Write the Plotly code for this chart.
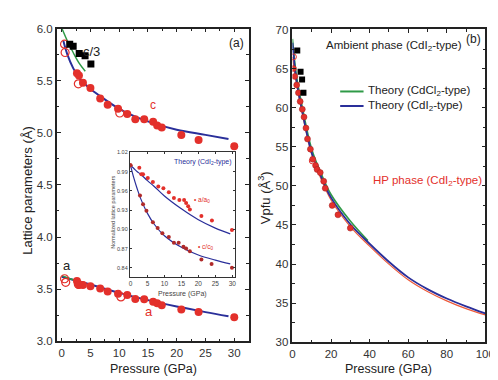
import plotly.graph_objects as go

# ---------------- data: panel (a) ----------------
P_hp = [2.66, 3.0, 3.7, 5.0, 6.7, 8.0, 9.8, 11.4, 12.8, 14.35, 15.9, 16.6, 17.4, 20.8, 23.8, 30.0]
c_hp = [5.57, 5.55, 5.48, 5.43, 5.33, 5.27, 5.23, 5.18, 5.13, 5.13, 5.105, 5.07, 5.05, 4.98, 4.93, 4.87]
a_hp = [3.578, 3.54, 3.54, 3.528, 3.506, 3.478, 3.457, 3.445, 3.407, 3.404, 3.38, 3.366, 3.345, 3.305, 3.282, 3.23]

P_open_c = [0.5, 0.6, 2.9, 10.1]
c_open = [5.85, 5.77, 5.47, 5.19]
P_open_a = [0.5, 0.7, 2.9, 10.3]
a_open = [3.60, 3.566, 3.547, 3.426]

P_c3 = [1.4, 2.0, 3.05, 4.07, 5.08]
c3_amb = [5.85, 5.83, 5.76, 5.74, 5.66]

P_th_c = [0.3, 1, 2, 3, 4, 5, 7, 10, 13, 16, 20, 25, 29]
c_th_blue = [5.88, 5.75, 5.62, 5.53, 5.47, 5.42, 5.34, 5.23, 5.15, 5.09, 5.03, 4.98, 4.94]
P_th_green = [0.05, 1, 2, 3, 4.1]
c_th_green = [6.0, 5.88, 5.77, 5.67, 5.59]
a_th_green = [3.63, 3.61, 3.59, 3.57, 3.555]
P_th_a = [0, 5, 10, 15, 20, 25, 29]
a_th_blue = [3.62, 3.545, 3.465, 3.395, 3.335, 3.28, 3.24]

# ---------------- data: inset ----------------
P_in_a = [0, 2.6, 3.2, 3.7, 5.1, 6.6, 8.2, 9.7, 11.3, 12.8, 14.4, 15.8, 16.4, 17.0, 17.5, 20.9, 24.0, 29.9]
a_norm = [1.0, 0.996, 0.986, 0.986, 0.980, 0.974, 0.967, 0.964, 0.958, 0.949, 0.946, 0.946, 0.941, 0.936, 0.931, 0.921, 0.914, 0.899]
P_in_c = [0, 2.8, 3.7, 4.7, 6.6, 8.0, 9.4, 11.3, 12.8, 14.2, 15.6, 16.4, 17.5, 20.9, 23.9, 29.9]
c_norm = [1.0, 0.953, 0.939, 0.929, 0.911, 0.902, 0.894, 0.888, 0.879, 0.879, 0.873, 0.870, 0.866, 0.853, 0.846, 0.840]
P_in_th = [0, 1, 2, 3, 5, 7, 10, 15, 20, 25, 29.4]
a_norm_th = [1.0, 0.995, 0.990, 0.986, 0.976, 0.967, 0.952, 0.932, 0.915, 0.902, 0.893]
c_norm_th = [1.0, 0.980, 0.963, 0.948, 0.925, 0.908, 0.890, 0.872, 0.860, 0.852, 0.846]

# ---------------- data: panel (b) ----------------
P_v_hp = [0.5, 1.2, 2.2, 3.1, 4.0, 5.1, 6.0, 7.0, 7.8, 9.3, 10.5, 12.0, 12.8, 14.4, 16.2, 17.0, 20.6, 23.6, 30.0]
V_hp = [65.0, 64.0, 62.9, 61.9, 60.8, 59.8, 58.8, 57.4, 56.0, 54.7, 53.4, 52.6, 52.1, 51.7, 50.6, 49.7, 47.5, 46.3, 44.6]
P_v_open = [0.5, 10.3]
V_open = [66.5, 53.2]
P_v_amb = [2.5, 4.2, 5.0, 5.7]
V_amb = [67.3, 64.6, 63.6, 61.9]
P_v_th = [0, 2, 5, 10, 15, 20, 30, 40, 50, 60, 70, 80, 90, 100]
V_th_blue = [68.3, 63.6, 59.6, 54.2, 51.1, 48.5, 45.1, 42.6, 40.3, 38.3, 36.8, 35.6, 34.6, 33.7]
V_fit_red = [66.5, 63.2, 59.4, 54.0, 50.8, 48.2, 44.8, 42.3, 40.0, 38.0, 36.5, 35.3, 34.3, 33.5]
P_v_green = [0, 2, 5, 10, 15, 20, 30, 39.1]
V_th_green = [68.8, 64.2, 60.2, 54.7, 51.5, 48.9, 45.5, 43.0]

RED = "#e3302b"
BLUE = "#2a2f9a"
GREEN = "#2f9a47"
FONT = "Liberation Sans, Arial, sans-serif"
W, H = 498, 380

def px(xp):
    return xp / W

def py(yp):
    return 1 - yp / H

fig = go.Figure()

# panel (a)
fig.add_trace(go.Scatter(x=P_th_c, y=c_th_blue, mode="lines", line=dict(color=BLUE, width=2, shape="spline"), xaxis="x", yaxis="y"))
fig.add_trace(go.Scatter(x=P_th_a, y=a_th_blue, mode="lines", line=dict(color=BLUE, width=2, shape="spline"), xaxis="x", yaxis="y"))
fig.add_trace(go.Scatter(x=P_th_green, y=c_th_green, mode="lines", line=dict(color=GREEN, width=1.5, shape="spline"), xaxis="x", yaxis="y"))
fig.add_trace(go.Scatter(x=P_th_green, y=a_th_green, mode="lines", line=dict(color=GREEN, width=1.5, shape="spline"), xaxis="x", yaxis="y"))
fig.add_trace(go.Scatter(x=P_hp, y=c_hp, mode="markers", marker=dict(color=RED, size=8, symbol="circle"), xaxis="x", yaxis="y"))
fig.add_trace(go.Scatter(x=P_hp, y=a_hp, mode="markers", marker=dict(color=RED, size=8, symbol="circle"), xaxis="x", yaxis="y"))
fig.add_trace(go.Scatter(x=P_open_c, y=c_open, mode="markers", marker=dict(color=RED, size=8, symbol="circle-open", line=dict(width=1.2)), xaxis="x", yaxis="y"))
fig.add_trace(go.Scatter(x=P_open_a, y=a_open, mode="markers", marker=dict(color=RED, size=8, symbol="circle-open", line=dict(width=1.2)), xaxis="x", yaxis="y"))
fig.add_trace(go.Scatter(x=P_c3, y=c3_amb, mode="markers", marker=dict(color="black", size=7, symbol="square"), xaxis="x", yaxis="y"))

# inset
fig.add_trace(go.Scatter(x=P_in_th, y=a_norm_th, mode="lines", line=dict(color=BLUE, width=1.2, shape="spline"), xaxis="x3", yaxis="y3"))
fig.add_trace(go.Scatter(x=P_in_th, y=c_norm_th, mode="lines", line=dict(color=BLUE, width=1.2, shape="spline"), xaxis="x3", yaxis="y3"))
fig.add_trace(go.Scatter(x=P_in_a, y=a_norm, mode="markers", marker=dict(color=RED, size=4), xaxis="x3", yaxis="y3"))
fig.add_trace(go.Scatter(x=P_in_c, y=c_norm, mode="markers", marker=dict(color="#b02a2a", size=4), xaxis="x3", yaxis="y3"))

# panel (b)
fig.add_trace(go.Scatter(x=P_v_th, y=V_fit_red, mode="lines", line=dict(color="#ee5a3a", width=1.2, shape="spline"), xaxis="x2", yaxis="y2"))
fig.add_trace(go.Scatter(x=P_v_green, y=V_th_green, mode="lines", line=dict(color=GREEN, width=1.6, shape="spline"), xaxis="x2", yaxis="y2"))
fig.add_trace(go.Scatter(x=P_v_th, y=V_th_blue, mode="lines", line=dict(color=BLUE, width=1.8, shape="spline"), xaxis="x2", yaxis="y2"))
fig.add_trace(go.Scatter(x=P_v_hp, y=V_hp, mode="markers", marker=dict(color=RED, size=6, line=dict(color="#a02020", width=0.5)), xaxis="x2", yaxis="y2"))
fig.add_trace(go.Scatter(x=P_v_open, y=V_open, mode="markers", marker=dict(color=RED, size=6, symbol="circle-open", line=dict(width=1)), xaxis="x2", yaxis="y2"))
fig.add_trace(go.Scatter(x=P_v_amb, y=V_amb, mode="markers", marker=dict(color="black", size=6, symbol="square"), xaxis="x2", yaxis="y2"))

axcommon = dict(showline=True, linecolor="#222", linewidth=1.5, mirror="allticks", ticks="inside",
                tickcolor="#222", ticklen=4, tickwidth=1.2, showgrid=False, zeroline=False,
                tickfont=dict(family=FONT, size=11.5, color="#333"))

fig.update_layout(
    width=W, height=H, margin=dict(l=0, r=0, t=0, b=0), autosize=False,
    paper_bgcolor="white", plot_bgcolor="white", showlegend=False,
    font=dict(family=FONT, color="#222"),
    xaxis=dict(domain=[px(47), px(244)], range=[-0.85, 32.5], tickvals=[0, 5, 10, 15, 20, 25, 30],
               minor=dict(ticks="inside", ticklen=2.5, dtick=2.5, tickcolor="#222"), anchor="y", **axcommon),
    yaxis=dict(domain=[py(338), py(15)], range=[3.0, 6.0], dtick=0.5, tickformat=".1f",
               minor=dict(ticks="inside", ticklen=2.5, dtick=0.25, tickcolor="#222"), anchor="x", **axcommon),
    xaxis2=dict(domain=[px(289), px(487)], range=[0, 100], dtick=20,
                minor=dict(ticks="inside", ticklen=2.5, dtick=10, tickcolor="#222"), anchor="y2", **axcommon),
    yaxis2=dict(domain=[py(339), py(16)], range=[30, 70], dtick=5,
                minor=dict(ticks="inside", ticklen=2.5, dtick=2.5, tickcolor="#222"), anchor="x2", **axcommon),
    xaxis3=dict(domain=[px(122), px(230)], range=[-0.2, 30.8], dtick=5, anchor="y3",
                showline=True, linecolor="#333", linewidth=1, mirror="allticks", ticks="inside",
                ticklen=2, tickcolor="#333", showgrid=False, zeroline=False,
                tickfont=dict(family=FONT, size=6.5, color="#444")),
    yaxis3=dict(domain=[py(272), py(143)], range=[0.825, 1.02], tickvals=[0.84, 0.87, 0.90, 0.93, 0.96, 0.99, 1.02],
                tickformat=".2f", anchor="x3",
                showline=True, linecolor="#333", linewidth=1, mirror="allticks", ticks="inside",
                ticklen=2, tickcolor="#333", showgrid=False, zeroline=False,
                tickfont=dict(family=FONT, size=5.5, color="#444")),
)

ann = []
def A(text, x, y, size=12, color="#222", angle=0, xanchor="center"):
    ann.append(dict(text=text, x=px(x), y=py(y), xref="paper", yref="paper", showarrow=False,
                    font=dict(family=FONT, size=size, color=color), textangle=angle, xanchor=xanchor, yanchor="middle"))

A("Lattice parameters (Å)", 17, 182, size=13, angle=-90)
A("Pressure (GPa)", 146, 367, size=12.5)
A("Vpfu (Å<sup>3</sup>)", 260, 190, size=13, angle=-90)
A("Pressure (GPa)", 388, 367, size=12.5)
A("(a)", 232, 30, size=12)
A("(b)", 475, 26, size=12)
A("c/3", 83, 39, size=13)
A("c", 146, 94, size=12, color=RED)
A("a", 57, 260, size=13)
A("a", 142, 307, size=13, color=RED)
A("Theory (CdI<sub>2</sub>-type)", 197, 153, size=7, color=BLUE)
A("<span style='color:%s'>•</span> a/a<sub>0</sub>" % RED, 186, 192, size=6.5, color=RED, xanchor="left")
A("<span style='color:%s'>•</span> c/c<sub>0</sub>" % RED, 190, 241, size=6.5, color=RED, xanchor="left")
A("Normalized lattice parameters", 104, 205, size=5.5, angle=-90, color="#444")
A("Pressure (GPa)", 176, 289, size=7, color="#444")
A("Ambient phase (CdI<sub>2</sub>-type)", 393, 33, size=11.5)
A("Theory (CdCl<sub>2</sub>-type)", 365, 80, size=11.5, xanchor="left")
A("Theory (CdI<sub>2</sub>-type)", 365, 95, size=11.5, xanchor="left")
A("HP phase (CdI<sub>2</sub>-type)", 428, 172, size=11.5, color=RED)
fig.update_layout(annotations=ann)

fig.update_layout(shapes=[
    dict(type="line", xref="paper", yref="paper", x0=px(338), x1=px(362), y0=py(80), y1=py(80), line=dict(color=GREEN, width=2)),
    dict(type="line", xref="paper", yref="paper", x0=px(338), x1=px(362), y0=py(95), y1=py(95), line=dict(color=BLUE, width=2)),
])

fig.write_html("out.html")
